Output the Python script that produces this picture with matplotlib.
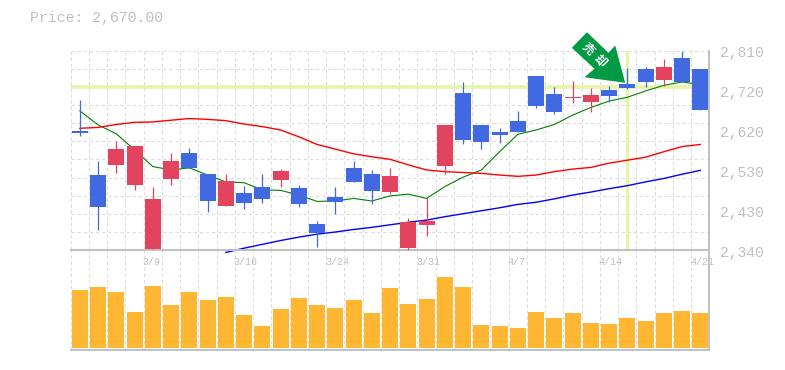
import numpy as np
import matplotlib
matplotlib.use('Agg')
import matplotlib.pyplot as plt
from matplotlib.patches import Polygon
from matplotlib.transforms import Affine2D

# candles
opens = [2621, 2517, 2541, 2494, 2343, 2508, 2569, 2519, 2444, 2475, 2489, 2505,
         2487, 2402, 2465, 2534, 2519, 2477, 2345, 2399, 2538, 2710, 2635, 2618,
         2644, 2750, 2708, 2698, 2689, 2717, 2731, 2766, 2741, 2792, 2766]
closes = [2616, 2442, 2578, 2585, 2461, 2550, 2534, 2456, 2503, 2451, 2461, 2527,
          2449, 2381, 2454, 2501, 2479, 2515, 2407, 2409, 2635, 2600, 2595, 2611,
          2618, 2679, 2665, 2701, 2705, 2704, 2722, 2736, 2771, 2736, 2670]
highs = [2693, 2550, 2597, 2585, 2489, 2569, 2581, 2519, 2519, 2491, 2519, 2531,
         2494, 2409, 2489, 2550, 2529, 2534, 2416, 2463, 2635, 2736, 2635, 2628,
         2668, 2750, 2724, 2738, 2722, 2726, 2769, 2771, 2790, 2809, 2766]
lows = [2609, 2388, 2522, 2482, 2343, 2494, 2534, 2430, 2444, 2437, 2451, 2489,
        2442, 2348, 2425, 2501, 2449, 2472, 2338, 2374, 2519, 2590, 2578, 2592,
        2618, 2675, 2661, 2686, 2665, 2689, 2719, 2724, 2726, 2736, 2670]

ma_short = [2668, 2635, 2614, 2576, 2537, 2529, 2534, 2517, 2501, 2499, 2482, 2481,
            2470, 2455, 2456, 2462, 2456, 2468, 2472, 2462, 2490, 2512, 2529, 2572,
            2613, 2623, 2636, 2658, 2676, 2691, 2700, 2715, 2728, 2736, 2730]
ma_mid = [2627, 2629, 2636, 2641, 2642, 2646, 2650, 2648, 2645, 2637, 2631, 2623,
          2607, 2589, 2578, 2567, 2560, 2554, 2541, 2529, 2525, 2523, 2521, 2517,
          2514, 2517, 2525, 2531, 2535, 2545, 2552, 2559, 2572, 2584, 2589]
ma_long = [np.nan] * 8 + [2335, 2345, 2354, 2363,
           2371, 2378, 2383, 2389, 2394, 2400, 2406, 2411, 2419, 2426, 2433, 2440,
           2448, 2453, 2461, 2470, 2477, 2485, 2492, 2501, 2509, 2519, 2528]

volume = [174, 183, 168, 108, 186, 129, 168, 144, 153, 99, 66, 117, 150, 129, 120, 144, 105, 180,
          132, 147, 213, 183, 69, 66, 60, 108, 90, 105, 75, 72, 90, 81, 105, 111, 105]

price_ticks = [2810, 2720, 2620, 2530, 2430, 2340]
date_pos = [4, 9, 14, 19, 24, 29, 34]
date_labels = ['3/9', '3/16', '3/24', '3/31', '4/7', '4/14', '4/21']

W, H = 785, 370
L, R, T, M, B = 70.7, 709.5, 50.5, 250.3, 350.0
GREY = '#c0c0c0'
GRID = '#dcdcdc'
UP = '#e2435f'
DOWN = '#4169e1'
HILITE = '#e6f5a8'
FONT = 'Liberation Mono'

fig = plt.figure(figsize=(W / 100, H / 100), dpi=100)
vax = fig.add_axes([L / W, 1 - B / H, (R - L) / W, (B - M) / H])
ax = fig.add_axes([L / W, 1 - M / H, (R - L) / W, (M - T) / H])

n = len(opens)
x = np.arange(n)
for a in (ax, vax):
    a.set_xlim(-0.5, n - 0.5)
    a.set_xticks(np.arange(n + 1) - 0.5)
    a.tick_params(length=0, labelbottom=False, labelleft=False)
    a.grid(axis='x', color=GRID, lw=0.8, ls=(0, (3, 2.5)), zorder=0)
    a.set_axisbelow(True)
    for s in ('top', 'left'):
        a.spines[s].set_visible(False)
    a.spines['bottom'].set_color(GREY)
    a.spines['bottom'].set_linewidth(1.4)
    a.spines['right'].set_color(GREY)
    a.spines['right'].set_linewidth(1.4)
    for line in a.get_xgridlines():
        line.set_clip_on(False)

# price pane
ax.set_ylim(2340, 2810)
ax.set_yticks(np.linspace(2340, 2810, 12))
ax.grid(axis='y', color=GRID, lw=0.8, ls=(0, (3, 2.5)), zorder=0)
for line in ax.get_ygridlines():
    line.set_clip_on(False)

ax.axhline(2723.5, color=HILITE, lw=2.6, zorder=1)
ax.axvline(30, color=HILITE, lw=2.4, zorder=1)

ax.plot(x, ma_short, color='#008000', lw=0.8, zorder=2)
ax.plot(x, ma_mid, color='#ff0000', lw=1.0, zorder=2)
ax.plot(x, ma_long, color='#0000ff', lw=1.0, zorder=2, clip_on=False)

for i in range(n):
    c = UP if closes[i] >= opens[i] else DOWN
    ax.vlines(x[i], lows[i], highs[i], color=c, lw=0.9, zorder=3)
    lo, hi = sorted((opens[i], closes[i]))
    ax.bar(x[i], max(hi - lo, 2.4), bottom=lo, width=16 / 18.25, color=c, lw=0, zorder=4)

# arrow marker, vertices are pixel offsets from its tip
tip = ax.transData.transform((29.88, 2734))
arrow_shape = [(0, 0), (-10, -37.3), (-16.7, -30), (-38.3, -50.6), (-53.3, -35),
               (-30.7, -14), (-40.7, -5.6)]
arrow_shape = [(dx, -dy) for dx, dy in arrow_shape]
arrow = Polygon(arrow_shape, closed=True, color='#009944', lw=0, zorder=5, clip_on=False,
                transform=Affine2D().translate(*tip))
ax.add_patch(arrow)
for ch, (dx, dy) in zip('売却', [(-36.7, -34), (-25.7, -22.3)]):
    fig.text((tip[0] + dx) / W, (tip[1] - dy) / H, ch, color='white', fontsize=8.5,
             fontweight='bold', family='Noto Sans CJK JP', rotation=-45, ha='center', va='center',
             rotation_mode='anchor', zorder=6)

# volume pane
vax.set_ylim(-6, 293)
vax.set_yticks([])
vax.bar(x, volume, width=16 / 18.25, color='#ffb733', lw=0, zorder=3)

# texts
for v, py in zip(price_ticks, np.linspace(T, M, 6)):
    fig.text(720 / W, 1 - (py + 2.5) / H, f'{v:,}', color=GREY, fontsize=10.5, family=FONT,
             ha='left', va='center')
for p, lab in zip(date_pos, date_labels):
    vax.text(p - 0.56, 258, lab, color=GREY, fontsize=7.2, family=FONT,
             ha='left', va='center', clip_on=False, zorder=6)
fig.text(30 / W, 1 - 18 / H, 'Price: 2,670.00', color=GREY, fontsize=10.7, family=FONT,
         ha='left', va='center')

fig.savefig('out.png', dpi=100)
